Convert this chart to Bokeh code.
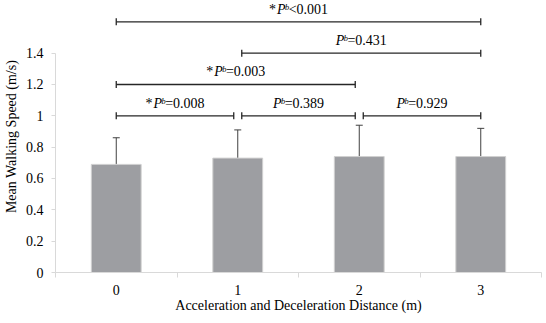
from bokeh.plotting import figure
from bokeh.models import (ColumnDataSource, Range1d, FixedTicker, Whisker, TeeHead, Label)
from bokeh.embed import file_html
from bokeh.resources import INLINE
import numpy as np

# ---- data ----
categories = ["0", "1", "2", "3"]
means = [0.69, 0.73, 0.74, 0.74]
sds = [0.17, 0.18, 0.20, 0.18]

y_ticks = [0, 0.2, 0.4, 0.6, 0.8, 1.0, 1.2, 1.4]
y_tick_labels = ["0", "0.2", "0.4", "0.6", "0.8", "1", "1.2", "1.4"]

# pairwise comparisons: (from category, to category, bracket level, prefix, relation, value)
cmp_from = [0, 1, 2, 0, 1, 0]
cmp_to = [1, 2, 3, 2, 3, 3]
cmp_level = [1.0, 1.0, 1.0, 1.2, 1.4, 1.6]
cmp_star = ["*", "", "", "*", "", "*"]
cmp_rel = ["=", "=", "=", "=", "=", "<"]
cmp_val = ["0.008", "0.389", "0.929", "0.003", "0.431", "0.001"]

FONT = "Liberation Serif"
FS = 14

x = list(range(len(categories)))

p = figure(width=546, height=323, output_backend="svg", toolbar_location=None,
           x_range=Range1d(-0.5, 3.5), y_range=Range1d(0, 1.736),
           min_border_left=53, min_border_right=5, min_border_top=0, min_border_bottom=51)
p.outline_line_color = None
p.xgrid.visible = False
p.ygrid.visible = False
p.background_fill_color = "white"
p.border_fill_color = "white"

src = ColumnDataSource(dict(x=x, top=means,
                            upper=[m + s for m, s in zip(means, sds)],
                            lower=[m - s for m, s in zip(means, sds)]))
p.vbar(x="x", top="top", width=0.41, source=src, fill_color="#9d9ea2",
       line_color="#d0d0d0", line_width=1)

w = Whisker(base="x", upper="upper", lower="lower", source=src, dimension="height",
            line_color="#404040", line_width=1,
            upper_head=TeeHead(size=7, line_color="#404040", line_width=1),
            lower_head=TeeHead(size=7, line_color="#404040", line_width=1))
p.add_layout(w)

# x axis
xa = p.xaxis[0]
xa.ticker = FixedTicker(ticks=x, minor_ticks=[i - 0.5 for i in x] + [x[-1] + 0.5])
xa.major_label_overrides = {i: c for i, c in zip(x, categories)}
xa.major_tick_out = 0
xa.major_tick_in = 0
xa.minor_tick_out = 5
xa.minor_tick_in = 0
xa.minor_tick_line_color = "#d9d9d9"
xa.axis_line_color = "#d9d9d9"
xa.major_label_text_font = FONT
xa.major_label_text_font_size = f"{FS}px"
xa.major_label_text_color = "black"
xa.major_label_standoff = 7
xa.axis_label = "Acceleration and Deceleration Distance (m)"
xa.axis_label_text_font = FONT
xa.axis_label_text_font_size = f"{FS}px"
xa.axis_label_text_font_style = "normal"
xa.axis_label_text_color = "black"
xa.axis_label_standoff = 0

# y axis
ya = p.yaxis[0]
ya.ticker = FixedTicker(ticks=y_ticks, minor_ticks=[])
ya.major_label_overrides = {t: l for t, l in zip(y_ticks, y_tick_labels)}
ya.bounds = (0, 1.4)
ya.major_tick_out = 4
ya.major_tick_in = 0
ya.major_tick_line_color = "#d9d9d9"
ya.axis_line_color = "#d9d9d9"
ya.major_label_text_font = FONT
ya.major_label_text_font_size = f"{FS}px"
ya.major_label_text_color = "black"
ya.major_label_standoff = 8
ya.axis_label = "Mean Walking Speed (m/s)"
ya.axis_label_text_font = FONT
ya.axis_label_text_font_size = f"{FS}px"
ya.axis_label_text_font_style = "normal"
ya.axis_label_text_color = "black"
ya.axis_label_standoff = 4

# ---- comparison brackets ----
trim = 0.033
x0s, x1s, ys = [], [], []
for a, b, lv in zip(cmp_from, cmp_to, cmp_level):
    xa0 = a + (trim if a != x[0] else 0)
    xb1 = b - (trim if b != x[-1] else 0)
    x0s.append(xa0); x1s.append(xb1); ys.append(lv)
bsrc = ColumnDataSource(dict(x0=x0s, x1=x1s, y=ys))
p.segment(x0="x0", y0="y", x1="x1", y1="y", source=bsrc, line_color="#262626", line_width=1.3)
p.scatter(x=x0s + x1s, y=ys + ys, marker="dash", angle=np.pi / 2, size=7,
          line_color="#262626", line_width=1.3)

# text metrics (Times-like advance widths, per em)
adv = {"*": 0.5, "=": 0.564, "<": 0.564, ".": 0.25}
def w_of(s, fs):
    return sum(adv.get(ch, 0.5) for ch in s) * fs

SUB = FS * 0.6
for x0, x1, lv, star, rel, val in zip(x0s, x1s, ys, cmp_star, cmp_rel, cmp_val):
    cx = (x0 + x1) / 2
    pieces = []
    if star:
        pieces.append((star, FS, "normal", 0, w_of(star, FS) + 1.0))
    pieces.append(("P", FS, "italic", 0, 0.611 * FS - 0.5))
    pieces.append(("b", SUB, "italic", 5, 0.5 * SUB - 0.5))
    tail = rel + val
    pieces.append((tail, FS, "normal", 0, w_of(tail, FS)))
    total = sum(pc[4] for pc in pieces)
    off = -total / 2
    for txt, fs, style, dy, wd in pieces:
        p.add_layout(Label(x=cx, y=lv, x_offset=off, y_offset=5 + dy, text=txt,
                           text_font=FONT, text_font_size=f"{fs}px",
                           text_font_style=style, text_color="black",
                           text_align="left", text_baseline="bottom"))
        off += wd

open("out.html", "w").write(file_html(p, INLINE))
